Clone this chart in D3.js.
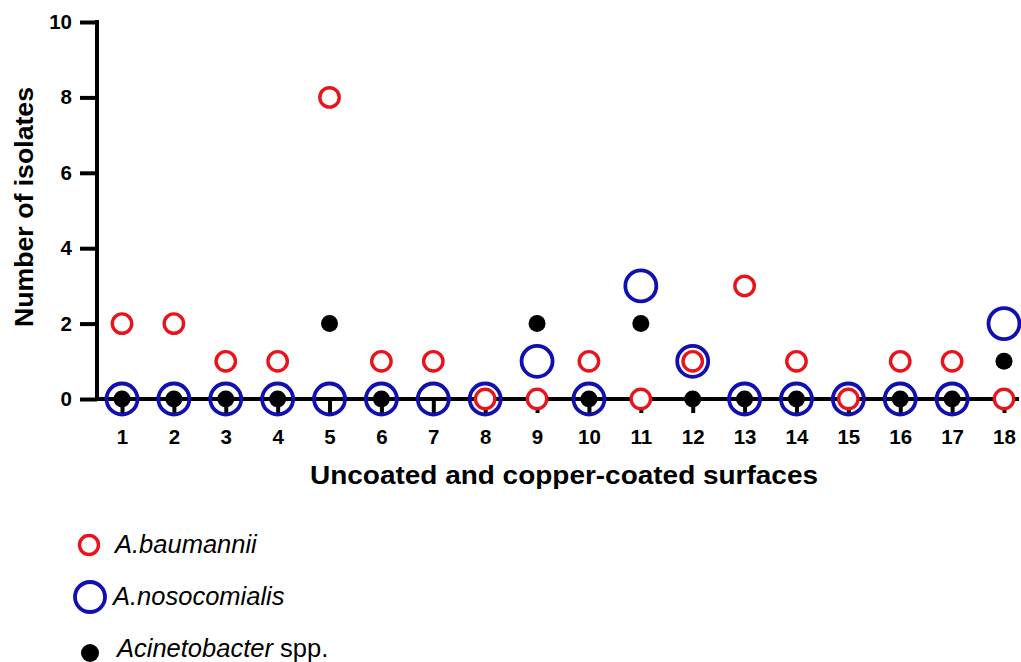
<!DOCTYPE html>
<html><head><meta charset="utf-8">
<script src="https://cdn.jsdelivr.net/npm/d3@7"></script>
<style>body{margin:0;background:#fff}svg{display:block}text{font-family:Arial,"Liberation Sans",sans-serif}</style>
</head><body><svg id="c" width="1021" height="662"></svg>
<script>
const categories = ["1","2","3","4","5","6","7","8","9","10","11","12","13","14","15","16","17","18"];
const baumannii = [2,2,1,1,8,1,1,0,0,1,0,1,3,1,0,1,1,0];
const nosocomialis = [0,0,0,0,0,0,0,0,1,0,3,1,0,0,0,0,0,2];
const sppValues = [0,0,0,0,2,0,null,0,2,0,2,0,0,0,0,0,0,1];
const yTicks = [0,2,4,6,8,10];

const svg = d3.select("#c");
const x = d3.scalePoint().domain(categories).range([122,1004]);
const y = d3.scaleLinear().domain([0,10]).range([399,22]);

// y axis
const ya = svg.append("g").attr("transform","translate(97,0)")
  .call(d3.axisLeft(y).tickValues(yTicks).tickSize(17).tickPadding(8).tickSizeOuter(0));
ya.select(".domain").attr("stroke","#000").attr("stroke-width",4).attr("d","M0,20V399");
ya.selectAll(".tick line").attr("stroke","#000").attr("stroke-width",4);
ya.selectAll(".tick text").attr("font-size",20.5).attr("font-weight","bold").attr("fill","#000");

// x axis
const xa = svg.append("g").attr("transform","translate(0,399)")
  .call(d3.axisBottom(x).tickSize(14).tickPadding(16).tickSizeOuter(0));
xa.select(".domain").attr("stroke","#000").attr("stroke-width",4).attr("d","M95,0H1019");
xa.selectAll(".tick line").attr("stroke","#000").attr("stroke-width",4);
xa.selectAll(".tick text").attr("font-size",20.5).attr("font-weight","bold").attr("fill","#000");

// titles
svg.append("text").attr("x",564).attr("y",484).attr("text-anchor","middle")
  .attr("font-size",25).attr("font-weight","bold")
  .attr("textLength",508).attr("lengthAdjust","spacingAndGlyphs")
  .text("Uncoated and copper-coated surfaces");
svg.append("text").attr("transform","translate(33,207) rotate(-90)").attr("text-anchor","middle")
  .attr("font-size",25).attr("font-weight","bold")
  .attr("textLength",240).attr("lengthAdjust","spacingAndGlyphs")
  .text("Number of isolates");

// series
const idx = d3.range(categories.length);
svg.append("g").selectAll("circle").data(idx.filter(i=>sppValues[i]!==null)).join("circle")
  .attr("cx",i=>x(categories[i])).attr("cy",i=>y(sppValues[i])).attr("r",8.5).attr("fill","#000");
svg.append("g").selectAll("circle").data(idx).join("circle")
  .attr("cx",i=>x(categories[i])).attr("cy",i=>y(nosocomialis[i])).attr("r",15.5)
  .attr("fill","none").attr("stroke","#1010b0").attr("stroke-width",3.8);
svg.append("g").selectAll("circle").data(idx).join("circle")
  .attr("cx",i=>x(categories[i])).attr("cy",i=>y(baumannii[i])).attr("r",9.7)
  .attr("fill","#fff").attr("stroke","#e8131b").attr("stroke-width",3.4);

// legend
const lg = svg.append("g");
lg.append("circle").attr("cx",89).attr("cy",545).attr("r",9.5).attr("fill","#fff").attr("stroke","#e8131b").attr("stroke-width",3.4);
lg.append("text").attr("x",115).attr("y",553).attr("font-size",25.5).attr("font-style","italic").text("A.baumannii");
lg.append("circle").attr("cx",90).attr("cy",597).attr("r",15).attr("fill","none").attr("stroke","#1010b0").attr("stroke-width",3.8);
lg.append("text").attr("x",113).attr("y",605).attr("font-size",25.5).attr("font-style","italic").text("A.nosocomialis");
lg.append("circle").attr("cx",90).attr("cy",653).attr("r",9).attr("fill","#000");
const t3 = lg.append("text").attr("x",117).attr("y",657).attr("font-size",25.5);
t3.append("tspan").attr("font-style","italic").text("Acinetobacter");
t3.append("tspan").text(" spp.");
</script></body></html>
